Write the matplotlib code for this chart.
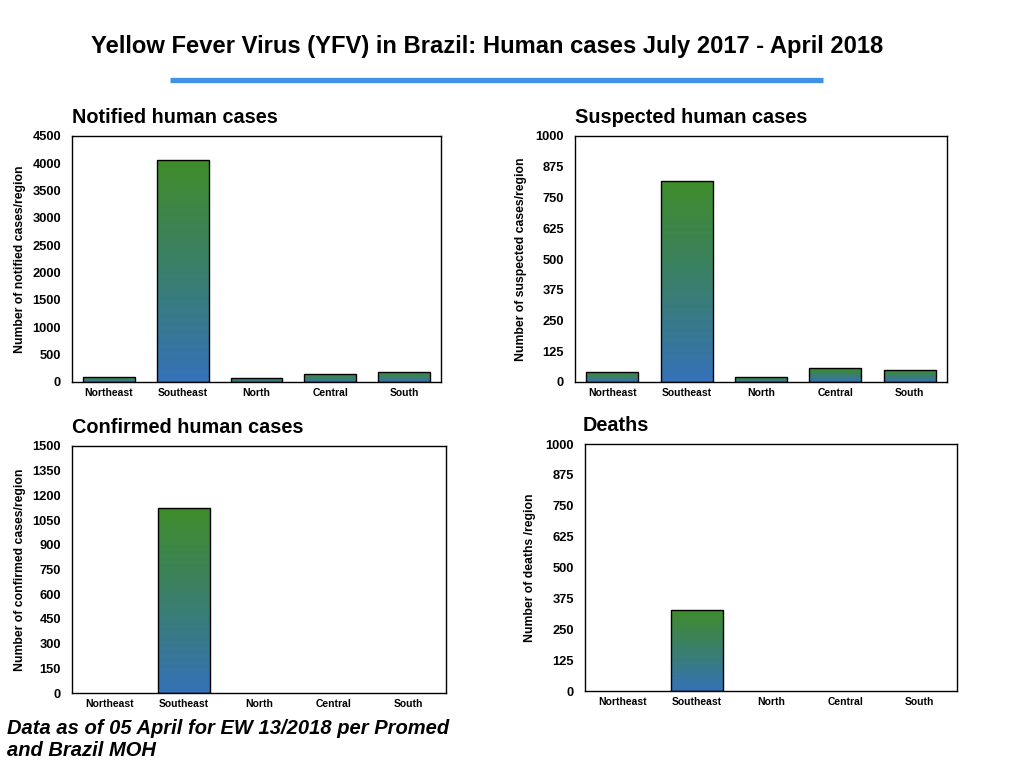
import numpy as np
import matplotlib
matplotlib.use("Agg")
import matplotlib.pyplot as plt
from matplotlib.colors import LinearSegmentedColormap

plt.rcParams['font.family'] = ['Liberation Sans', 'DejaVu Sans']

regions = ["Northeast", "Southeast", "North", "Central", "South"]
notified = [86, 4060, 68, 146, 177]
suspected = [39, 817, 19, 56, 48]
confirmed = [0, 1123, 0, 0, 0]
deaths = [0, 328, 0, 0, 0]

notified_ticks = [0, 500, 1000, 1500, 2000, 2500, 3000, 3500, 4000, 4500]
suspected_ticks = [0, 125, 250, 375, 500, 625, 750, 875, 1000]
confirmed_ticks = [0, 150, 300, 450, 600, 750, 900, 1050, 1200, 1350, 1500]
deaths_ticks = [0, 125, 250, 375, 500, 625, 750, 875, 1000]

cmap = LinearSegmentedColormap.from_list("bg", ["#3572b8", "#3a7f6c", "#3f8c2a"])

fig = plt.figure(figsize=(10.24, 7.68), dpi=100)
fig.patch.set_facecolor("white")

fig.text(487 / 1024, 1 - 46 / 768, "Yellow Fever Virus (YFV) in Brazil: Human cases July 2017 - April 2018",
         ha="center", va="center", fontsize=17.1, fontweight="bold")
fig.add_artist(plt.Line2D([170 / 1024, 823 / 1024], [1 - 80 / 768, 1 - 80 / 768],
                          color="#4191e6", lw=3.8, solid_capstyle="butt"))

panels = [
    ([72 / 1024, 1 - 382 / 768, 369 / 1024, 246 / 768], notified, notified_ticks,
     "Notified human cases", "Number of notified cases/region", 26, 0),
    ([575 / 1024, 1 - 382 / 768, 372 / 1024, 246 / 768], suspected, suspected_ticks,
     "Suspected human cases", "Number of suspected cases/region", 527, 0),
    ([72 / 1024, 1 - 693 / 768, 374 / 1024, 247 / 768], confirmed, confirmed_ticks,
     "Confirmed human cases", "Number of confirmed cases/region", 26, 0),
    ([585 / 1024, 1 - 691 / 768, 372 / 1024, 247 / 768], deaths, deaths_ticks,
     "Deaths", "Number of deaths /region", 536, -2),
]

grad = np.linspace(0, 1, 256).reshape(-1, 1)
x = np.arange(len(regions))
w = 0.7

for rect, vals, ticks, title, ylab, ylx, tdx in panels:
    ax = fig.add_axes(rect)
    ax.set_xlim(-0.5, len(regions) - 0.5)
    ax.set_ylim(ticks[0], ticks[-1])
    edges = ["black" if v > 0 else "none" for v in vals]
    bars = ax.bar(x, vals, width=w, facecolor="none", edgecolor=edges, linewidth=1.0, zorder=3)
    for b, v in zip(bars, vals):
        if v <= 0:
            continue
        im = ax.imshow(grad, cmap=cmap, origin="lower", aspect="auto",
                       extent=[b.get_x(), b.get_x() + b.get_width(), 0, v], zorder=2,
                       interpolation="bilinear")
        im.set_clip_path(b)
    ax.set_xlim(-0.5, len(regions) - 0.5)
    ax.set_ylim(ticks[0], ticks[-1])
    ax.set_xticks(x)
    ax.set_xticklabels(regions, fontsize=7.5, fontweight="bold")
    ax.set_yticks(ticks)
    ax.set_yticklabels([str(t) for t in ticks], fontsize=9.3, fontweight="bold")
    ax.tick_params(axis="both", length=0)
    ax.tick_params(axis="y", pad=8)
    ax.tick_params(axis="x", pad=4)
    for s in ax.spines.values():
        s.set_linewidth(1.0)
    ax.text(tdx / (rect[2] * 1024), 1 + 9 / (rect[3] * 768), title, transform=ax.transAxes,
            ha="left", va="bottom", fontsize=14.3, fontweight="bold")
    ax.set_ylabel(ylab, fontsize=8.8, fontweight="bold")
    ax.yaxis.set_label_coords((ylx - rect[0] * 1024) / (rect[2] * 1024), 0.5)

fig.text(7 / 1024, 1 - 740 / 768, "Data as of 05 April for EW 13/2018 per Promed\nand Brazil MOH",
         ha="left", va="center", fontsize=14.5, fontweight="bold", fontstyle="italic", linespacing=1.2)

fig.savefig("out.png", dpi=100, facecolor="white")
